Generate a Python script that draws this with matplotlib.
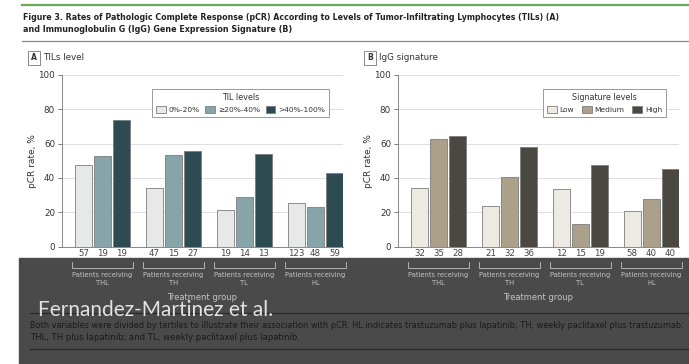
import matplotlib
matplotlib.use("Agg")
import matplotlib.pyplot as plt
from matplotlib.patches import Rectangle
from matplotlib.lines import Line2D
from matplotlib.transforms import blended_transform_factory
from matplotlib import font_manager as fm
import numpy as np

names = {f.name for f in fm.fontManager.ttflist}
NARROW = "Liberation Sans Narrow" if "Liberation Sans Narrow" in names else "DejaVu Sans"
plt.rcParams['font.family'] = [NARROW, 'DejaVu Sans']

# ---- data ----
groups = ["THL", "TH", "TL", "HL"]
til_levels = ["0%-20%", "\u226520%-40%", ">40%-100%"]
til_values = [[47.4, 34.0, 21.1, 25.2],
              [52.6, 53.3, 28.6, 22.9],
              [73.7, 55.6, 53.8, 43.0]]
til_counts = [[57, 47, 19, 123],
              [19, 15, 14, 48],
              [19, 27, 13, 59]]
igg_levels = ["Low", "Medium", "High"]
igg_values = [[34.4, 23.8, 33.3, 20.7],
              [62.9, 40.6, 13.3, 27.5],
              [64.3, 58.3, 47.4, 45.0]]
igg_counts = [[32, 21, 12, 58],
              [35, 32, 15, 40],
              [28, 36, 19, 40]]
yticks = [0, 20, 40, 60, 80, 100]

til_colors = ["#e7e9e9", "#87a4a9", "#2c4c52"]
igg_colors = ["#eceae2", "#aba08a", "#4a4840"]

W, H = 689, 364
fig = plt.figure(figsize=(W / 100, H / 100), dpi=100)

def fx(px):
    return px / W

def fy(py):
    return 1 - py / H

def fit(t, target_px):
    fig.canvas.draw()
    r = fig.canvas.get_renderer()
    w = t.get_window_extent(r).width
    t.set_fontsize(t.get_fontsize() * target_px / w)

# header
fig.add_artist(Line2D([fx(22), 1], [fy(5), fy(5)], color="#6aa85a", lw=1.6))
t1 = fig.text(fx(23), fy(17), "Figure 3. Rates of Pathologic Complete Response (pCR) According to Levels of "
              "Tumor-Infiltrating Lymphocytes (TILs) (A)", fontsize=6.5, fontweight="bold",
              color="#222222", va="center", ha="left")
t2 = fig.text(fx(23), fy(29), "and Immunoglobulin G (IgG) Gene Expression Signature (B)", fontsize=6.5,
              fontweight="bold", color="#222222", va="center", ha="left")
fig.add_artist(Line2D([fx(22), 1], [fy(41), fy(41)], color="#8a8a8a", lw=0.9))

offsets = [-0.268, 0.0, 0.268]
bw = 0.24
x = np.arange(len(groups))

def panel(left_px, letter, label, levels, values, counts, colors, leg_title, leg_box, colsp):
    ax = fig.add_axes([fx(left_px), fy(246.5), 281 / W, 171.5 / H])
    for i in range(3):
        ax.bar(x + offsets[i], values[i], width=bw, color=colors[i], edgecolor="#7d7d7d",
               linewidth=0.6, label=levels[i], zorder=3)
    ax.set_xlim(-0.57, 3.39)
    ax.set_ylim(0, 100)
    ax.set_yticks(yticks)
    ax.set_yticklabels([str(v) for v in yticks], fontsize=6.3, color="#333333")
    ax.tick_params(axis="y", length=3, width=0.6, color="#666666", pad=2)
    ax.set_xticks([])
    ax.grid(axis="y", color="#dddddd", lw=0.7, zorder=0)
    for s in ["top", "right"]:
        ax.spines[s].set_visible(False)
    ax.spines["left"].set_color("#888888")
    ax.spines["bottom"].set_color("#888888")
    ax.spines["left"].set_linewidth(0.7)
    ax.spines["bottom"].set_linewidth(0.7)
    ax.set_ylabel("pCR rate, %", fontsize=6.5, color="#333333", labelpad=1)
    # panel label
    fig.text(fx(left_px - 28), fy(58), letter, fontsize=5.5, fontweight="bold", color="#333333",
             ha="center", va="center",
             bbox=dict(boxstyle="square,pad=0.35", fc="white", ec="#777777", lw=0.6))
    fig.text(fx(left_px - 19), fy(58), label, fontsize=6.3, color="#333333", ha="left", va="center")
    # legend
    l, t, r, b = leg_box
    leg = ax.legend(title=leg_title, ncol=3, fontsize=5.4, title_fontsize=5.8,
                    loc="upper right", bbox_to_anchor=(fx(r), fy(t)), bbox_transform=fig.transFigure,
                    frameon=True, fancybox=False, edgecolor="#999999", handlelength=1.3,
                    handleheight=1.1, columnspacing=colsp, handletextpad=0.4, borderpad=0.55,
                    framealpha=1)
    leg.get_frame().set_linewidth(0.7)
    for tx in leg.get_texts():
        tx.set_color("#333333")
    leg.get_title().set_color("#333333")
    # counts
    tr = blended_transform_factory(ax.transData, fig.transFigure)
    for i in range(3):
        for g in range(len(groups)):
            ax.text(x[g] + offsets[i], fy(254), str(counts[i][g]), transform=tr, fontsize=6.2,
                    color="#444444", ha="center", va="center")
    return ax, tr

axA, trA = panel(62, "A", "TILs level", til_levels, til_values, til_counts, til_colors,
                 "TIL levels", (160, 85, 333, 118), 0.7)
axB, trB = panel(398, "B", "IgG signature", igg_levels, igg_values, igg_counts, igg_colors,
                 "Signature levels", (545, 85, 670, 118), 1.0)

# overlay band
fig.add_artist(Rectangle((fx(18.5), 0), 1 - fx(18.5), fy(258), transform=fig.transFigure,
                         color="#4a4a4a", zorder=5))

light = "#c4c4c4"
prec = []
for ax, tr, left_px in [(axA, trA, 62), (axB, trB, 398)]:
    for g in range(len(groups)):
        xl, xr = x[g] - 0.43, x[g] + 0.43
        fig.add_artist(Line2D([xl, xl, xr, xr], [fy(262), fy(268), fy(268), fy(262)], transform=tr,
                              color=light, lw=0.6, zorder=6))
        prec.append(fig.text(x[g], fy(275), "Patients receiving", transform=tr, fontsize=5.8,
                             color=light, ha="center", va="center", zorder=7))
        prec.append(fig.text(x[g], fy(283), groups[g], transform=tr, fontsize=5.8, color=light,
                             ha="center", va="center", zorder=7))
    fig.text(fx(left_px + 140.5), fy(297), "Treatment group", fontsize=6.0, color=light,
             ha="center", va="center", zorder=7)

fig.add_artist(Line2D([fx(30), 1], [fy(313), fy(313)], color="#2a2a2a", lw=0.9, zorder=6))
fig.add_artist(Line2D([fx(30), 1], [fy(349), fy(349)], color="#2a2a2a", lw=0.9, zorder=6))
c1 = fig.text(fx(30), fy(325), "Both variables were divided by tertiles to illustrate their association with pCR. "
              "HL indicates trastuzumab plus lapatinib; TH, weekly paclitaxel plus trastuzumab;",
              fontsize=6.3, color="#1a1a1a", ha="left", va="center", zorder=7)
c2 = fig.text(fx(30), fy(337), "THL, TH plus lapatinib; and TL, weekly paclitaxel plus lapatinib.",
              fontsize=6.3, color="#1a1a1a", ha="left", va="center", zorder=7)
fz = fig.text(fx(38), fy(310), "Fernandez-Martinez et al.", fontsize=12, color="#e2e2e2",
              family=["Lato", "DejaVu Sans"], fontweight="normal", ha="left", va="center", zorder=8)

fit(t1, 537)
fit(t2, 267)
fit(c1, 653)
fit(c2, 270)
fit(fz, 234)
fit(prec[0], 60)
for p in prec[1:]:
    p.set_fontsize(prec[0].get_fontsize())

fig.savefig("out.png", dpi=100)
